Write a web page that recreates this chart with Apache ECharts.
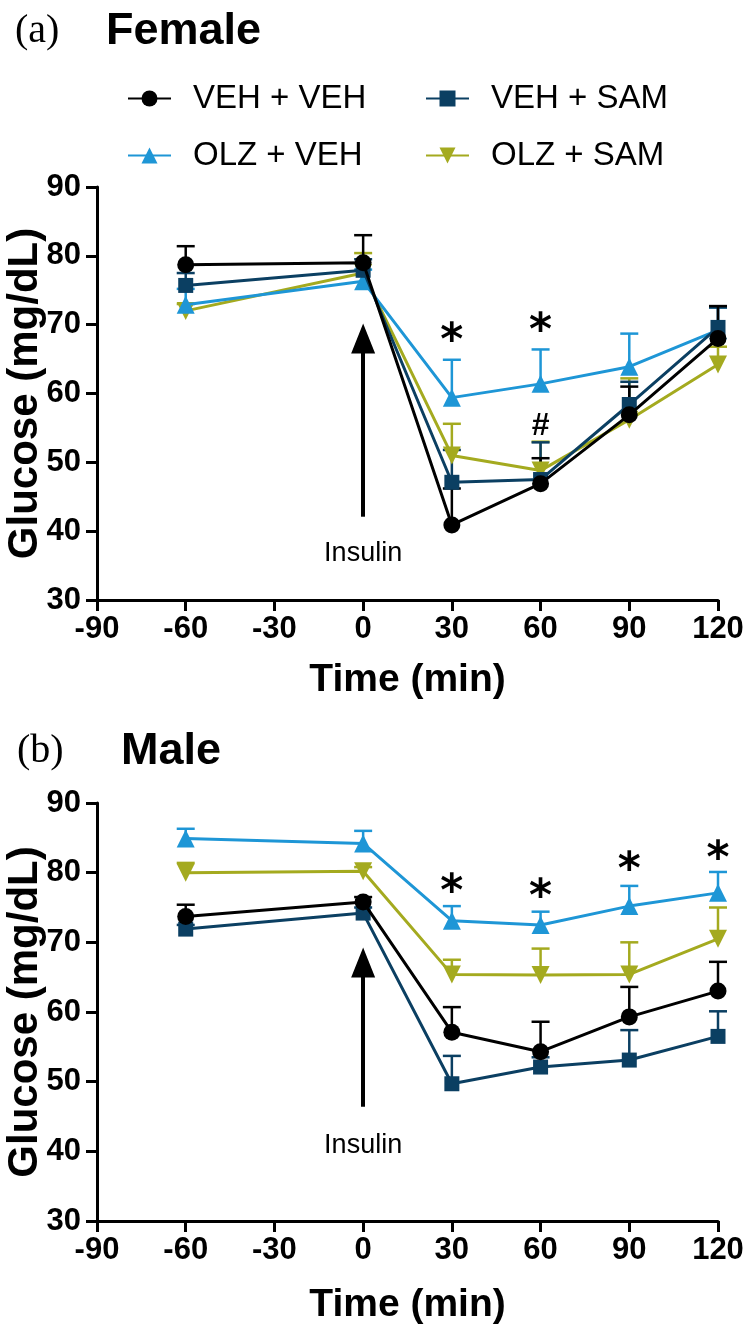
<!DOCTYPE html>
<html>
<head>
<meta charset="utf-8">
<script src="https://cdn.jsdelivr.net/npm/echarts@6/dist/echarts.min.js"></script>
<style>html,body{margin:0;padding:0;background:#fff}#c{width:753px;height:1331px}</style>
</head>
<body>
<div id="c"></div>
<script>
// ---------- data ----------
const times = [-60, 0, 30, 60, 90, 120];
const seriesNames = ['VEH + VEH', 'VEH + SAM', 'OLZ + VEH', 'OLZ + SAM'];

// Female (panel a): means and mean+SEM
const fVehVeh = [78.7, 79.0, 40.9, 46.9, 56.9, 68.0];
const fVehVehErr = [81.4, 83.0, 46.2, 50.6, 61.0, 72.7];
const fVehSam = [75.7, 77.9, 47.1, 47.5, 58.4, 69.6];
const fVehSamErr = [77.5, 79.5, 51.8, 52.9, 61.7, 72.5];
const fOlzVeh = [72.9, 76.3, 59.4, 61.4, 63.9, 69.2];
const fOlzVehErr = [75.2, 78.0, 64.9, 66.4, 68.7, 72.5];
const fOlzSam = [72.0, 77.5, 51.0, 48.8, 56.2, 64.2];
const fOlzSamErr = [73.0, 80.4, 55.6, 53.0, 62.2, 66.8];

// Male (panel b)
const mVehVeh = [73.7, 75.8, 57.1, 54.3, 59.3, 63.0];
const mVehVehErr = [75.4, 76.5, 60.7, 58.6, 63.6, 67.2];
const mVehSam = [71.9, 74.2, 49.7, 52.1, 53.1, 56.5];
const mVehSamErr = [72.5, 75.0, 53.7, 53.5, 57.4, 60.1];
const mOlzVeh = [84.9, 84.2, 73.1, 72.5, 75.2, 77.1];
const mOlzVehErr = [86.3, 86.0, 75.2, 74.4, 78.1, 80.1];
const mOlzSam = [80.0, 80.2, 65.4, 65.3, 65.4, 70.5];
const mOlzSamErr = [81.4, 80.8, 67.5, 69.1, 70.0, 75.0];

// significance annotations
const fMarkX = [30, 60, 60];
const fMarkY = [67.4, 68.8, 55.3];
const fMarkText = ['*', '*', '#'];
const mMarkX = [30, 60, 90, 120];
const mMarkY = [77.0, 76.3, 80.2, 81.8];
const mMarkText = ['*', '*', '*', '*'];

// insulin arrow (x, from, to) and label
const fArrow = [0, 42.1, 68.0];
const mArrow = [0, 46.4, 67.1];
const fInsulinY = 36.7;
const mInsulinY = 40.9;

// axes
const xTicks = [-90, 120, 30];
const yTicks = [30, 90, 10];

// ---------- styles ----------
const colors = ['#000000', '#0b3f62', '#1e96d6', '#a4aa1f'];
const symbols = ['circle', 'rect', 'triangle', 'triangle'];
const symRot = [0, 0, 0, 180];
const symSizes = [17, 15, 18, 18];
const FONT = 'Liberation Sans, Arial, sans-serif';

function pairs(vals) { return times.map((t, i) => [t, vals[i]]); }
function errTriples(vals, errs) { return times.map((t, i) => [t, vals[i], errs[i]]); }

function errSeries(idx, gi, vals, errs) {
  const col = colors[idx];
  return {
    type: 'custom', name: 'err' + gi + idx, xAxisIndex: gi, yAxisIndex: gi,
    z: 1, silent: true,
    data: errTriples(vals, errs),
    renderItem: function (params, api) {
      const p0 = api.coord([api.value(0), api.value(1)]);
      const p1 = api.coord([api.value(0), api.value(2)]);
      return {
        type: 'group', children: [
          { type: 'line', shape: { x1: p0[0], y1: p0[1], x2: p1[0], y2: p1[1] }, style: { stroke: col, lineWidth: 2.5 } },
          { type: 'line', shape: { x1: p1[0] - 9, y1: p1[1], x2: p1[0] + 9, y2: p1[1] }, style: { stroke: col, lineWidth: 2.5 } }
        ]
      };
    }
  };
}

function lineSeries(idx, gi, vals) {
  return {
    type: 'line', name: seriesNames[idx], xAxisIndex: gi, yAxisIndex: gi,
    z: 3 + (4 - idx),
    data: pairs(vals),
    symbol: symbols[idx], symbolSize: symSizes[idx], symbolRotate: symRot[idx],
    showAllSymbol: true,
    lineStyle: { color: colors[idx], width: 3 },
    itemStyle: { color: colors[idx] },
    emphasis: { disabled: true },
    animation: false
  };
}

function markSeries(gi, xs, ys, texts) {
  return {
    type: 'scatter', name: 'marks' + gi, xAxisIndex: gi, yAxisIndex: gi, z: 10, silent: true,
    symbolSize: 1, itemStyle: { color: 'rgba(0,0,0,0)', opacity: 1 },
    data: xs.map((x, i) => ({
      value: [x, ys[i]], name: texts[i],
      label: texts[i] === '#' ? { fontSize: 32, fontFamily: FONT } : {}
    })),
    label: {
      show: true, position: 'inside', formatter: p => p.name, opacity: 1,
      fontFamily: 'DejaVu Sans, sans-serif', fontWeight: 'bold', fontSize: 44, color: '#000'
    }
  };
}

function arrowSeries(gi, arrow, insY) {
  return {
    type: 'scatter', name: 'ins' + gi, xAxisIndex: gi, yAxisIndex: gi, z: 10, silent: true,
    symbolSize: 1, itemStyle: { color: 'rgba(0,0,0,0)', opacity: 1 },
    data: [{ value: [arrow[0], insY], name: 'Insulin' }],
    label: { show: true, position: 'inside', formatter: p => p.name, opacity: 1, fontFamily: FONT, fontSize: 27, color: '#000', textBorderWidth: 0 },
    markLine: {
      silent: true, animation: false,
      symbol: ['none', 'triangle'], symbolSize: [24, 30],
      lineStyle: { color: '#000', width: 4, type: 'solid', opacity: 1 },
      itemStyle: { color: '#000' },
      label: { show: false },
      data: [[{ coord: [arrow[0], arrow[1]] }, { coord: [arrow[0], arrow[2]] }]]
    }
  };
}

function axisLine() { return { show: true, onZero: false, lineStyle: { color: '#000', width: 3 } }; }
function axisTick() { return { show: true, length: 11, lineStyle: { color: '#000', width: 3 } }; }
function axisLabelStyle(margin) { return { margin: margin, fontFamily: FONT, fontWeight: 'bold', fontSize: 31, color: '#000' }; }

const xNameGaps = [61, 65];
function xAxis(gi) {
  return {
    type: 'value', gridIndex: gi, min: xTicks[0], max: xTicks[1], interval: xTicks[2],
    axisLine: axisLine(), axisTick: axisTick(), splitLine: { show: false },
    axisLabel: axisLabelStyle(14),
    name: 'Time (min)', nameLocation: 'middle', nameGap: xNameGaps[gi],
    nameTextStyle: { fontFamily: FONT, fontWeight: 'bold', fontSize: 39, color: '#000' }
  };
}
function yAxis(gi) {
  return {
    type: 'value', gridIndex: gi, min: yTicks[0], max: yTicks[1], interval: yTicks[2],
    axisLine: axisLine(), axisTick: axisTick(), splitLine: { show: false },
    axisLabel: axisLabelStyle(16),
    name: 'Glucose (mg/dL)', nameLocation: 'middle', nameGap: 51, nameMoveOverlap: false,
    nameTextStyle: { fontFamily: FONT, fontWeight: 'bold', fontSize: 42, color: '#000' }
  };
}

const legendText = { fontFamily: FONT, fontSize: 33, color: '#000', padding: [0, 0, 0, 17] };
function legend(name, left, top) {
  return { data: [name], left: left, top: top, padding: 0, itemWidth: 43, itemHeight: 20, selectedMode: false, textStyle: legendText };
}

const series = [];
const fem = [fVehVeh, fVehSam, fOlzVeh, fOlzSam];
const femE = [fVehVehErr, fVehSamErr, fOlzVehErr, fOlzSamErr];
const mal = [mVehVeh, mVehSam, mOlzVeh, mOlzSam];
const malE = [mVehVehErr, mVehSamErr, mOlzVehErr, mOlzSamErr];
for (let i = 3; i >= 0; i--) {
  series.push(errSeries(i, 0, fem[i], femE[i]));
  series.push(errSeries(i, 1, mal[i], malE[i]));
}
for (let i = 3; i >= 0; i--) {
  series.push(lineSeries(i, 0, fem[i]));
  series.push(lineSeries(i, 1, mal[i]));
}
series.push(markSeries(0, fMarkX, fMarkY, fMarkText));
series.push(markSeries(1, mMarkX, mMarkY, mMarkText));
series.push(arrowSeries(0, fArrow, fInsulinY));
series.push(arrowSeries(1, mArrow, mInsulinY));

const option = {
  animation: false,
  backgroundColor: '#fff',
  title: [
    { text: '(a)', left: 10, top: 6, textStyle: { fontFamily: 'Liberation Serif, Times New Roman, serif', fontWeight: 'normal', fontSize: 40, color: '#000' } },
    { text: 'Female', left: 101, top: 4, textStyle: { fontFamily: FONT, fontWeight: 'bold', fontSize: 45, color: '#000' } },
    { text: '(b)', left: 12, top: 726, textStyle: { fontFamily: 'Liberation Serif, Times New Roman, serif', fontWeight: 'normal', fontSize: 40, color: '#000' } },
    { text: 'Male', left: 116, top: 724, textStyle: { fontFamily: FONT, fontWeight: 'bold', fontSize: 45, color: '#000' } }
  ],
  legend: [
    legend(seriesNames[0], 127, 82),
    legend(seriesNames[1], 425, 82),
    legend(seriesNames[2], 127, 139),
    legend(seriesNames[3], 425, 139)
  ],
  grid: [
    { left: 97, right: 35, top: 187, height: 413, outerBoundsMode: 'none' },
    { left: 97, right: 35, top: 803, height: 418, outerBoundsMode: 'none' }
  ],
  xAxis: [xAxis(0), xAxis(1)],
  yAxis: [yAxis(0), yAxis(1)],
  series: series
};

const chart = echarts.init(document.getElementById('c'), null, { renderer: 'canvas' });
chart.setOption(option);
</script>
</body>
</html>
